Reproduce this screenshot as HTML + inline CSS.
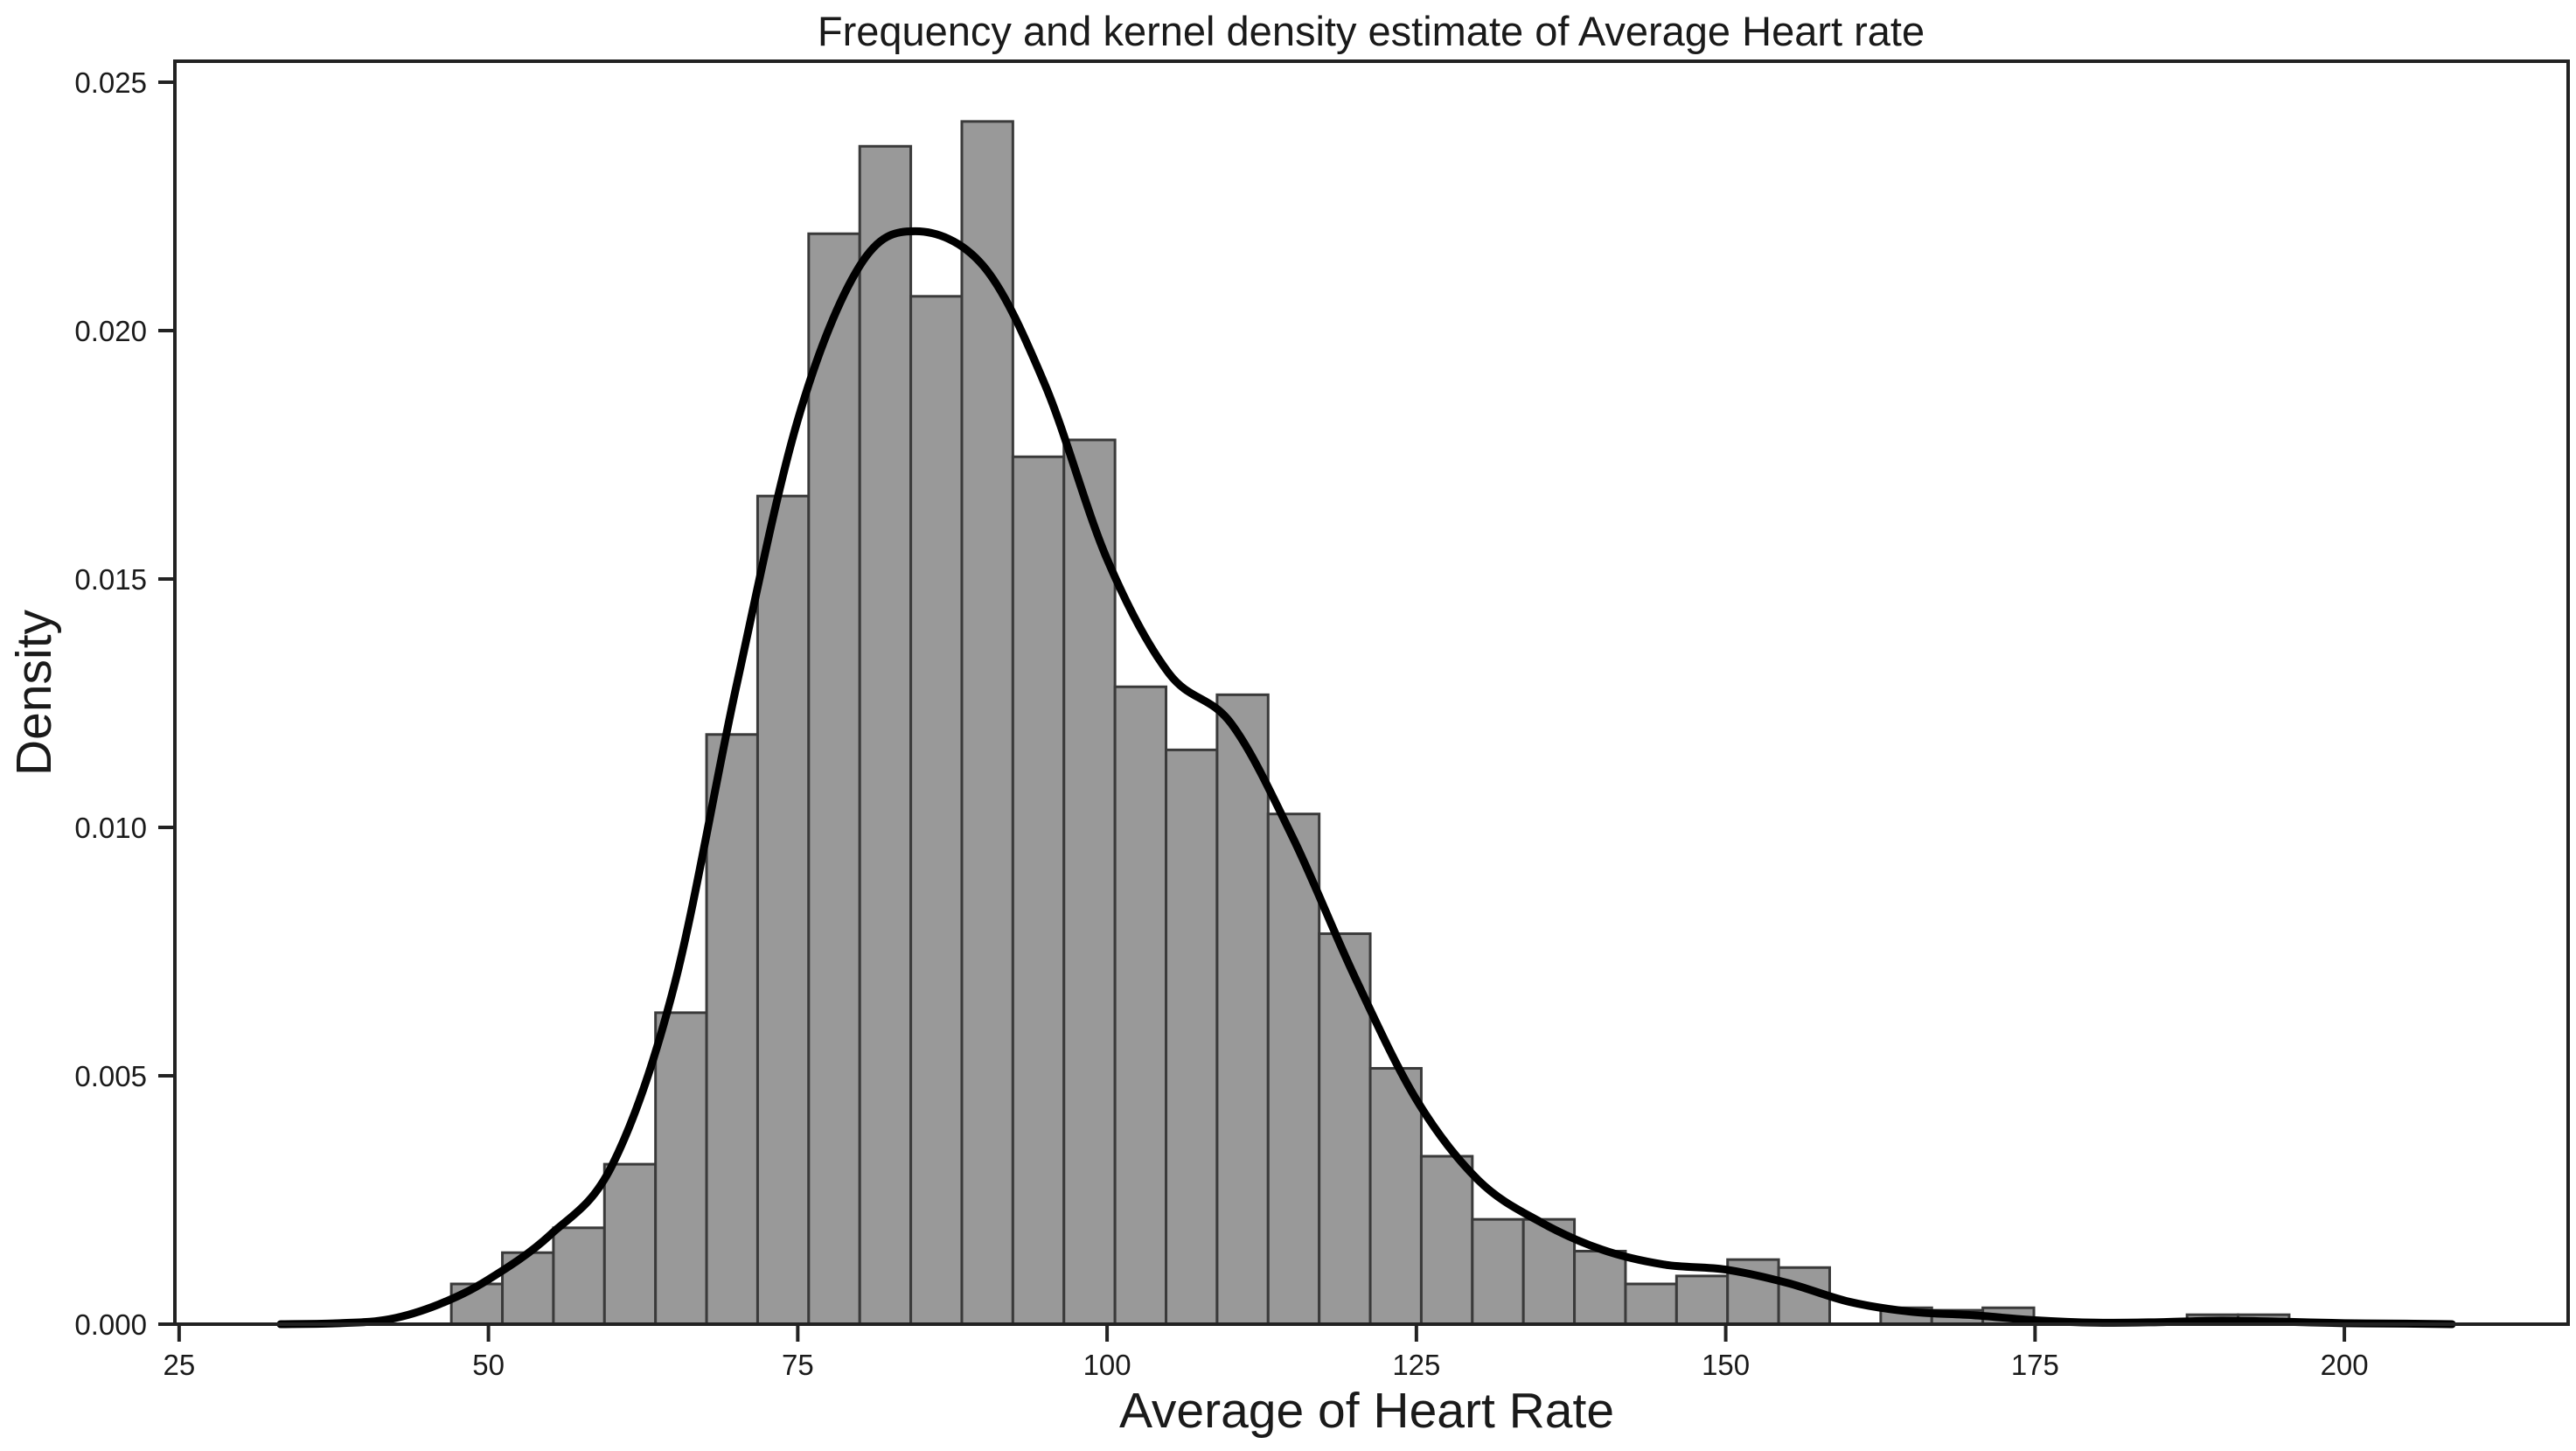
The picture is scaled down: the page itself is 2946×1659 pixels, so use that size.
<!DOCTYPE html>
<html><head><meta charset="utf-8"><style>
html,body{margin:0;padding:0;background:#fff;}
svg{display:block;font-family:"Liberation Sans",Arial,sans-serif;}
</style></head><body>
<svg id="chart" width="2946" height="1659" viewBox="0 0 2946 1659">
<text x="1568" y="52" text-anchor="middle" font-size="47" fill="#1a1a1a">Frequency and kernel density estimate of Average Heart rate</text>
<g id="bars"></g>
<path id="kde" fill="none" stroke="#000" stroke-width="9" stroke-linejoin="round" stroke-linecap="round"></path>
<rect x="200" y="70" width="2737" height="1444" fill="none" stroke="#222" stroke-width="4"></rect>
<g id="xticks"></g>
<g id="yticks"></g>
<text x="1563" y="1632" text-anchor="middle" font-size="57" fill="#1a1a1a">Average of Heart Rate</text>
<text transform="translate(58,792) rotate(-90)" text-anchor="middle" font-size="57" fill="#1a1a1a">Density</text>
</svg>
<script>
const binStart = 47.0;
const binWidth = 4.126;
const binDensities = [0.00081,0.00144,0.00194,0.00322,0.00627,0.01187,0.01667,0.02195,0.02371,0.02069,0.02421,0.01746,0.0178,0.01283,0.01156,0.01267,0.01027,0.00786,0.00515,0.00338,0.00211,0.00211,0.00147,0.00081,0.00097,0.0013,0.00114,0,0.00033,0.00028,0.00033,0,0,0,0.00019,0.00019,0,0,0,0];
const kdeX = [33.2,38,42,46,50,55,60,65,70,75,80,84.5,90,95,100,105,110,115,120,125,130,135,140,145,150,155,160,165,170,175,180,185,190,195,200,205,208.7];
const kdeY = [0,0.00002,0.0001,0.0004,0.0009,0.0018,0.0032,0.0068,0.0128,0.0182,0.0213,0.0220,0.0213,0.0189,0.0154,0.0131,0.0121,0.0098,0.0070,0.00452,0.0029,0.00206,0.0015,0.0012,0.0011,0.00083,0.00045,0.00025,0.00018,0.00008,0.00003,0.00004,0.00007,0.00005,0.00002,0.00001,0];
const xTicks = [25,50,75,100,125,150,175,200];
const yTicks = [0,0.005,0.010,0.015,0.020,0.025];
const yTickLabels = ["0.000","0.005","0.010","0.015","0.020","0.025"];

const NS = "http://www.w3.org/2000/svg";
function xs(v){ return 558.6 + (v - 50) * 14.15; }
function ys(v){ return 1514 - v * 56800; }

const barsG = document.getElementById('bars');
binDensities.forEach(function(d, i){
  if (d <= 0) return;
  const x0 = xs(binStart + i * binWidth), x1 = xs(binStart + (i + 1) * binWidth);
  const r = document.createElementNS(NS, 'rect');
  r.setAttribute('x', x0); r.setAttribute('y', ys(d));
  r.setAttribute('width', x1 - x0); r.setAttribute('height', ys(0) - ys(d));
  r.setAttribute('fill', '#999999'); r.setAttribute('stroke', '#3a3a3a'); r.setAttribute('stroke-width', '3');
  
  
  barsG.appendChild(r);
});

const pts = kdeX.map(function(v, i){ return [xs(v), ys(kdeY[i])]; });
let d = 'M' + pts[0][0] + ',' + pts[0][1];
for (let i = 0; i < pts.length - 1; i++) {
  const p0 = pts[Math.max(0, i - 1)], p1 = pts[i], p2 = pts[i + 1], p3 = pts[Math.min(pts.length - 1, i + 2)];
  const c1x = p1[0] + (p2[0] - p0[0]) / 6, c1y = p1[1] + (p2[1] - p0[1]) / 6;
  const c2x = p2[0] - (p3[0] - p1[0]) / 6, c2y = p2[1] - (p3[1] - p1[1]) / 6;
  d += ' C' + c1x + ',' + Math.min(c1y, 1514) + ' ' + c2x + ',' + Math.min(c2y, 1514) + ' ' + p2[0] + ',' + p2[1];
}
document.getElementById('kde').setAttribute('d', d);

const xg = document.getElementById('xticks');
xTicks.forEach(function(t){
  const l = document.createElementNS(NS, 'line');
  l.setAttribute('x1', xs(t)); l.setAttribute('x2', xs(t)); l.setAttribute('y1', 1514); l.setAttribute('y2', 1534);
  l.setAttribute('stroke', '#222'); l.setAttribute('stroke-width', '4');
  
  
  xg.appendChild(l);
  const tx = document.createElementNS(NS, 'text');
  tx.setAttribute('x', xs(t)); tx.setAttribute('y', 1572); tx.setAttribute('text-anchor', 'middle');
  tx.setAttribute('font-size', '33'); tx.setAttribute('fill', '#1a1a1a');
  tx.textContent = String(t);
  
  
  xg.appendChild(tx);
});
const yg = document.getElementById('yticks');
yTicks.forEach(function(t, i){
  const l = document.createElementNS(NS, 'line');
  l.setAttribute('x1', 181); l.setAttribute('x2', 200); l.setAttribute('y1', ys(t)); l.setAttribute('y2', ys(t));
  l.setAttribute('stroke', '#222'); l.setAttribute('stroke-width', '4');
  
  
  yg.appendChild(l);
  const tx = document.createElementNS(NS, 'text');
  tx.setAttribute('x', 168); tx.setAttribute('y', ys(t) + 12); tx.setAttribute('text-anchor', 'end');
  tx.setAttribute('font-size', '33'); tx.setAttribute('fill', '#1a1a1a');
  tx.textContent = yTickLabels[i];
  
  
  yg.appendChild(tx);
});
</script>
</body></html>
